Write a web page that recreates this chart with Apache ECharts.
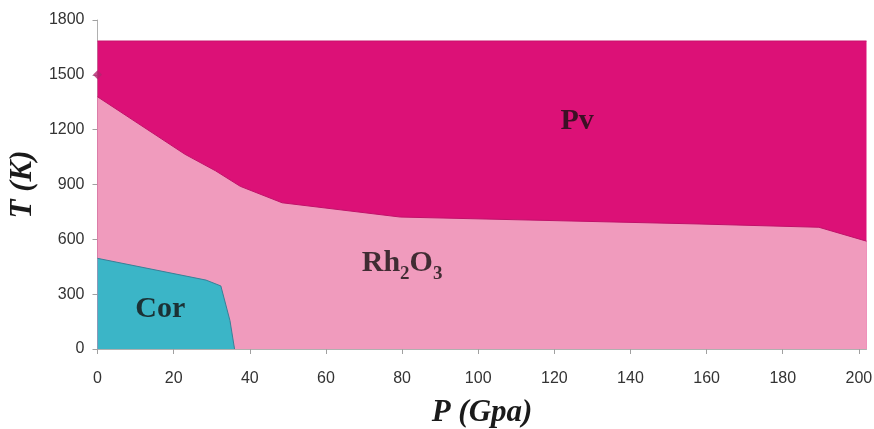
<!DOCTYPE html>
<html>
<head>
<meta charset="utf-8">
<script src="https://cdn.jsdelivr.net/npm/echarts@6/dist/echarts.min.js"></script>
<style>html,body{margin:0;padding:0;background:#fff}#chart{width:874px;height:429px}</style>
</head>
<body>
<div id="chart"></div>
<script>
// Pressure ticks (GPa) and temperature ticks (K)
const xTicks = [0, 20, 40, 60, 80, 100, 120, 140, 160, 180, 200];
const yTicks = [0, 300, 600, 900, 1200, 1500, 1800];

// Pv field upper edge (P, T)
const pvP = [0, 202];
const pvT = [1685, 1685];

// Pv / Rh2O3 boundary (P, T)
const rhP = [0, 23, 31, 37.5, 48.5, 79.5, 158, 189.5, 202];
const rhT = [1380, 1065, 975, 890, 800, 722, 684, 666, 590];

// Rh2O3 / Cor boundary (P, T)
const corP = [0, 28.5, 32.4, 34.8, 36];
const corT = [496, 377, 345, 155, 0];

// isolated marker
const markP = [0];
const markT = [1500];

// phase labels
const labelNames = ['Pv', 'Rh2O3', 'Cor'];
const labelP = [126, 80, 16.5];
const labelT = [1228, 455, 200];

const zip = (a, b) => a.map((v, i) => [v, b[i]]);

const chart = echarts.init(document.getElementById('chart'));
const labelFont = {fontFamily: 'Liberation Serif', fontWeight: 'bold', color: '#141010'};

chart.setOption({
  animation: false,
  grid: {left: 97.5, right: 7.5, top: 20, bottom: 80, outerBoundsMode: 'none', containLabel: false},
  xAxis: {
    type: 'value', min: 0, max: 202, interval: 20,
    name: 'P (Gpa)', nameLocation: 'middle', nameGap: 48,
    nameTextStyle: {fontFamily: 'Liberation Serif', fontWeight: 'bold', fontStyle: 'italic', fontSize: 31, color: '#1a1a1a'},
    axisLine: {show: true, lineStyle: {color: '#b0b0b0'}},
    axisTick: {show: true, length: 5, lineStyle: {color: '#a0a0a0'}, customValues: xTicks},
    axisLabel: {customValues: xTicks, margin: 22, fontFamily: 'Liberation Sans', fontSize: 16, color: '#333'},
    splitLine: {show: false}
  },
  yAxis: {
    type: 'value', min: 0, max: 1800, interval: 300,
    name: 'T (K)', nameLocation: 'middle', nameGap: 57, nameRotate: 90,
    nameTextStyle: {fontFamily: 'Liberation Serif', fontWeight: 'bold', fontStyle: 'italic', fontSize: 31, color: '#1a1a1a'},
    axisLine: {show: true, lineStyle: {color: '#b0b0b0'}},
    axisTick: {show: true, length: 5, lineStyle: {color: '#a0a0a0'}, customValues: yTicks},
    axisLabel: {customValues: yTicks, margin: 13, fontFamily: 'Liberation Sans', fontSize: 16, color: '#333', formatter: v => String(v)},
    splitLine: {show: false}
  },
  series: [
    {
      type: 'line', data: zip(pvP, pvT), symbol: 'none',
      lineStyle: {color: '#c8126c', width: 1},
      areaStyle: {color: '#DC1177', opacity: 1}, z: 2
    },
    {
      type: 'line', data: zip(rhP, rhT), symbol: 'none',
      lineStyle: {color: '#c0126a', width: 1},
      areaStyle: {color: '#F09BBD', opacity: 1}, z: 3
    },
    {
      type: 'line', data: zip(corP, corT), symbol: 'none',
      lineStyle: {color: '#3a7f96', width: 1},
      areaStyle: {color: '#3BB5C7', opacity: 1}, z: 4
    },
    {
      type: 'scatter', data: zip(markP, markT), symbol: 'diamond', symbolSize: 9,
      itemStyle: {color: '#b3246e'}, z: 5
    },
    {
      type: 'scatter', symbolSize: 0, z: 6, silent: true,
      data: labelNames.map((n, i) => ({name: n, value: [labelP[i], labelT[i]]})),
      label: {
        show: true, position: 'inside',
        formatter: p => p.name === 'Rh2O3' ? '{b|Rh}{s|2}{b|O}{s|3}' : '{b|' + p.name + '}',
        rich: {
          b: Object.assign({fontSize: 30, lineHeight: 36, verticalAlign: 'top'}, labelFont),
          s: Object.assign({fontSize: 19, lineHeight: 19, verticalAlign: 'bottom'}, labelFont)
        }
      }
    }
  ]
});
</script>
</body>
</html>
